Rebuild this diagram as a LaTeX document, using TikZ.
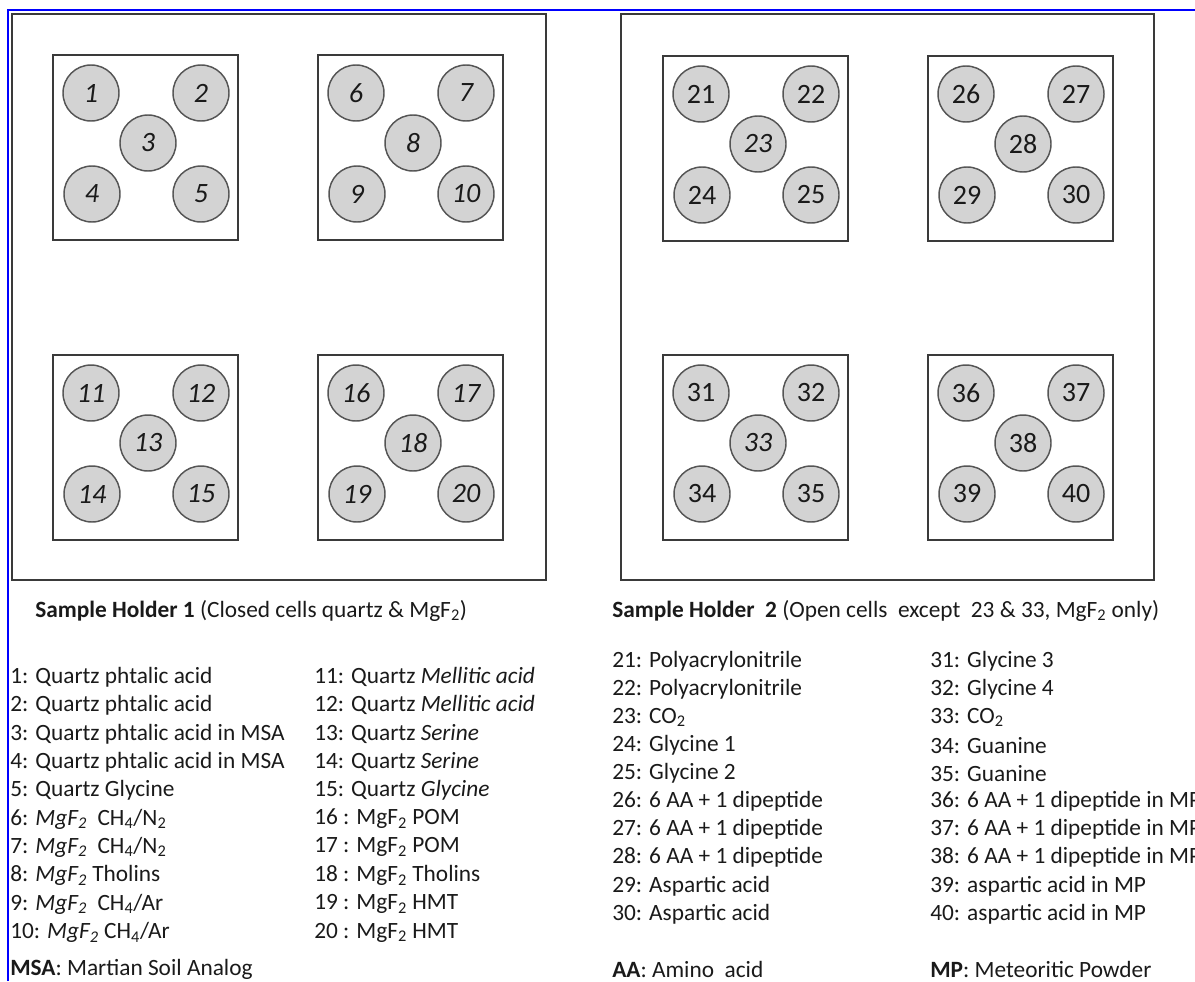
\documentclass[tikz,border=0pt]{standalone}
\usepackage{fontspec}
\setmainfont{Carlito}
\definecolor{boxline}{HTML}{3A3A3A}
\definecolor{cellline}{HTML}{555555}
\definecolor{cellfill}{HTML}{D3D3D3}
\definecolor{ink}{HTML}{1A1A1A}
\newcommand{\mgf}{MgF\textsubscript{2}}
\tikzset{
    CC/.style ={circle, minimum size=42pt, inner sep=0pt, draw=cellline, fill=cellfill, line width=1.1pt, text=ink, font=\fontsize{21}{24}\selectfont},
    RA/.style ={draw=boxline, line width=1.3pt},
    TX/.style ={anchor=west, inner sep=0pt, text=ink, font=\fontsize{17.5}{20}\selectfont}}
\begin{document}
\begin{tikzpicture}[x=0.75pt,y=-0.75pt]
    \useasboundingbox (0,0) rectangle (1195,981);
    \draw[blue, line width=2.2pt] (8,981) -- (8,10) -- (1195,10);
    % sample holders
    \draw[RA] (12,14) rectangle (546,580);
    \draw[RA] (621,14) rectangle (1154,580);
    % cells
    \foreach \x/\y/\k in {53/55/0,318/55/5,53/355/10,318/355/15,663/56/20,928/56/25,663/355/30,928/355/35}{
        \draw[RA] (\x,\y) rectangle ++(185,185);
        \foreach \dx/\dy/\i in {38/38/1,148/38/2,95/88/3,39/139/4,148/139/5}{
            \pgfmathtruncatemacro\n{\k+\i}
            \pgfmathtruncatemacro\ital{(\k<20) || (\n==23) || (\n==33)}
            \node[CC] (c\n) at (\x+\dx,\y+\dy) {\ifnum\ital=1 \itshape\fi\n};
        }
    }
    % captions
    \node[TX] (h1) at (35,611) {\textbf{Sample Holder 1} (Closed cells quartz \& \mgf)};
    \node[TX] (h2) at (612,611) {\textbf{Sample Holder\ \ 2} (Open cells\ \ except\ \ 23 \& 33, \mgf{} only)};
    % legends
    \foreach \t [count=\i] in {1: Quartz phtalic acid, 2: Quartz phtalic acid, 3: Quartz phtalic acid in MSA,
        4: Quartz phtalic acid in MSA, 5: Quartz Glycine,
        6: \textit{\mgf}\ \ CH\textsubscript{4}/N\textsubscript{2}, 7: \textit{\mgf}\ \ CH\textsubscript{4}/N\textsubscript{2},
        8: \textit{\mgf} Tholins, 9: \textit{\mgf}\ \ CH\textsubscript{4}/Ar, 10: \textit{\mgf} CH\textsubscript{4}/Ar}
        \node[TX] (l\i) at (10,677+28.4*\i-28.4) {\t};
    \foreach \t [count=\i from 11] in {11: Quartz \textit{Mellitic acid}, 12: Quartz \textit{Mellitic acid},
        13: Quartz \textit{Serine}, 14: Quartz \textit{Serine}, 15: Quartz \textit{Glycine},
        16 : \mgf{} POM, 17 : \mgf{} POM, 18 : \mgf{} Tholins, 19 : \mgf{} HMT, 20 : \mgf{} HMT}
        \node[TX] (l\i) at (314,677+28.4*\i-312.4) {\t};
    \foreach \t [count=\i from 21] in {21: Polyacrylonitrile, 22: Polyacrylonitrile, 23: CO\textsubscript{2},
        24: Glycine 1, 25: Glycine 2, 26: 6 AA + 1 dipeptide, 27: 6 AA + 1 dipeptide,
        28: 6 AA + 1 dipeptide, 29: Aspartic acid, 30: Aspartic acid}
        \node[TX] (l\i) at (612,661+28.1*\i-590.1) {\t};
    \foreach \t [count=\i from 31] in {31: Glycine 3, 32: Glycine 4, 33: CO\textsubscript{2},
        34: Guanine, 35: Guanine, 36: 6 AA + 1 dipeptide in MP, 37: 6 AA + 1 dipeptide in MP,
        38: 6 AA + 1 dipeptide in MP, 39: aspartic acid in MP, 40: aspartic acid in MP}
        \node[TX] (l\i) at (930,661+28.1*\i-871.1) {\t};
    \node[TX] (msa) at (10,969) {\textbf{MSA}: Martian Soil Analog};
    \node[TX] (aa) at (612,969) {\textbf{AA}: Amino\ \ acid};
    \node[TX] (mp) at (930,969) {\textbf{MP}: Meteoritic Powder};
\end{tikzpicture}
\end{document}
